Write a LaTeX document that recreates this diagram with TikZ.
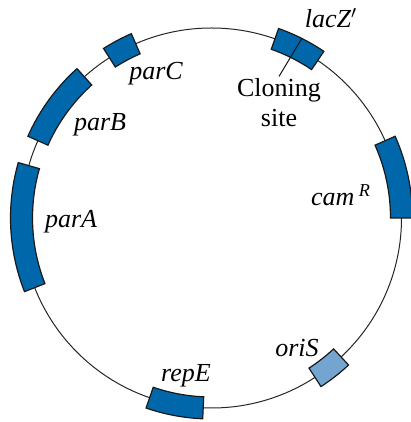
\documentclass[tikz,border=0pt]{standalone}
\usepackage{fontspec}
\setmainfont{Liberation Serif}
\usetikzlibrary{positioning,calc}
\definecolor{geneblue}{RGB}{0,103,170}
\definecolor{orilight}{RGB}{115,165,208}
\newcommand{\genebox}[3]{%
  \draw[#3] (#1:179) arc[start angle=#1, end angle=#2, radius=179]
    -- (#2:201) arc[start angle=#2, end angle=#1, radius=201] -- cycle;}
\tikzset{
	plasmid/.style={
		draw=black!85,
		line width=0.5pt,
	},
	gene/.style={
		draw=black!90,
		line width=0.6pt,
		fill=geneblue,
	},
	genelight/.style={
		gene,
		fill=orilight,
	},
	genename/.style={
		font=\itshape\fontsize{13}{15}\selectfont,
		inner sep=0pt,
	},
	sitelabel/.style={
		font=\fontsize{13}{15}\selectfont,
		align=center,
		inner sep=1pt,
	},
	marker/.style={
		draw=black!90,
		line width=0.5pt,
	},
}
\begin{document}
\begin{tikzpicture}[x=0.5pt,y=0.5pt]
\useasboundingbox (0,0) rectangle (411,422);

\begin{scope}[shift={(211.5,204)}]
\draw[plasmid] (0,0) circle[radius=190];

% genes on the plasmid
\genebox{113.5}{122.5}{gene}
\genebox{132}{156}{gene}
\genebox{164}{201.5}{gene}
\genebox{251}{267.5}{gene}
\genebox{303}{313}{genelight}
\genebox{0}{24}{gene}
\genebox{56}{70.5}{gene}

% cloning site inside lacZ'
\coordinate (cut) at (63.3:201);
\end{scope}

\node[genename] (parC) at (156,348) {parC};
\node[genename] (parB) at (100,297) {parB};
\node[genename] (parA) at (71,200) {parA};
\node[genename] (repE) at (186,46) {repE};
\node[genename] (oriS) at (297,74) {oriS};
\node[genename] (camR) at (341,227) {cam\,$^{\mathit{R}}$};
\node[genename] (lacZ) at (331,404) {lacZ$'$};
\node[sitelabel] (site) at (279,319) {Cloning\\site};

\draw[marker] (cut) -- (site.north);

\end{tikzpicture}
\end{document}
